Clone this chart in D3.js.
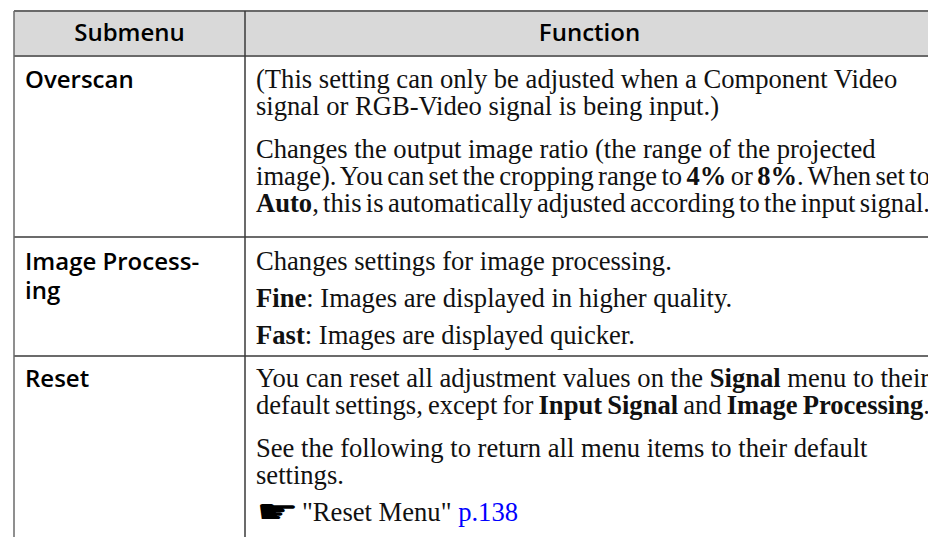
<!DOCTYPE html>
<html>
<head>
<meta charset="utf-8">
<script src="https://cdn.jsdelivr.net/npm/d3@7"></script>
<style>
  html, body { margin: 0; padding: 0; background: #fff; overflow: hidden; }
  svg { display: block; }
</style>
</head>
<body>
<svg id="chart" width="928" height="537"></svg>
<script>
// ---- data ----
const headers = ["Submenu", "Function"];
const submenus = [["Overscan"], ["Image Process-", "ing"], ["Reset"]];
// each row: list of paragraphs; each paragraph: {kind, lines}; **bold**, [[link]]
const functions = [
  [
    {kind: "p", lines: ["(This setting can only be adjusted when a Component Video",
                        "signal or RGB-Video signal is being input.)"]},
    {kind: "p", lines: ["Changes the output image ratio (the range of the projected",
                        "image). You can set the cropping range to **4%** or **8%**. When set to",
                        "**Auto**, this is automatically adjusted according to the input signal."]}
  ],
  [
    {kind: "p", lines: ["Changes settings for image processing."]},
    {kind: "li", lines: ["**Fine**: Images are displayed in higher quality."]},
    {kind: "li", lines: ["**Fast**: Images are displayed quicker."]}
  ],
  [
    {kind: "p", lines: ["You can reset all adjustment values on the **Signal** menu to their",
                        "default settings, except for **Input Signal** and **Image Processing**."]},
    {kind: "p", lines: ["See the following to return all menu items to their default",
                        "settings."]},
    {kind: "ref", lines: ["\u261B \"Reset Menu\" [[p.138]]"]}
  ]
];

// ---- layout ----
const W = 928, H = 537;
const tableLeft = 14, colDiv = 245, tableRight = 934;
const headerTop = 11, headerBottom = 56;
const rowHeights = [181, 119, 200];
const padTops = [32, 33, 31];
const lineH = 27, gapP = 16, gapLi = 10;
const textX = 256, maxW = 674;
const serif = "'Liberation Serif', 'Times New Roman', serif";
const sans = "'Open Sans', 'Noto Sans', sans-serif";
const serifSize = 26.6, sansSize = 24;

const svg = d3.select("#chart");

// header background
svg.append("rect").attr("x", tableLeft).attr("y", headerTop)
  .attr("width", tableRight - tableLeft).attr("height", headerBottom - headerTop)
  .attr("fill", "#d9d9d9");

const colCenters = [(tableLeft + colDiv) / 2, (colDiv + tableRight) / 2];
svg.selectAll("text.hdr").data(headers).join("text")
  .attr("class", "hdr")
  .attr("x", (d, i) => colCenters[i]).attr("y", 41)
  .attr("text-anchor", "middle")
  .attr("font-family", sans).attr("font-weight", 600).attr("font-size", sansSize)
  .attr("fill", "#000").text(d => d);

// row tops
const rowTops = [];
let yy = headerBottom;
rowHeights.forEach(h => { rowTops.push(yy); yy += h; });

function parseLine(str) {
  const segs = [];
  const re = /(\*\*[^*]+\*\*|\[\[[^\]]+\]\])/g;
  let last = 0, m;
  while ((m = re.exec(str))) {
    if (m.index > last) segs.push({t: str.slice(last, m.index), s: "n"});
    const tok = m[0];
    if (tok.startsWith("**")) segs.push({t: tok.slice(2, -2), s: "b"});
    else segs.push({t: tok.slice(2, -2), s: "l"});
    last = m.index + tok.length;
  }
  if (last < str.length) segs.push({t: str.slice(last), s: "n"});
  return segs;
}

functions.forEach((paras, r) => {
  const top = rowTops[r];
  // submenu label
  const lab = svg.append("text").attr("font-family", sans).attr("font-weight", 600)
    .attr("font-size", sansSize).attr("fill", "#000");
  submenus[r].forEach((ln, i) => {
    lab.append("tspan").attr("x", 25).attr("y", top + padTops[r] + i * 29).text(ln);
  });
  // function paragraphs
  let y = top + padTops[r];
  paras.forEach((p, pi) => {
    if (pi > 0) y += lineH + (p.kind === "p" ? gapP : gapLi);
    p.lines.forEach((ln, li) => {
      if (li > 0) y += lineH;
      let x = textX;
      let str = ln;
      if (str.startsWith("\u261B")) {
        svg.append("text")
          .attr("transform", `translate(${x},${y + 2}) scale(1.45,1)`)
          .attr("font-family", "'DejaVu Sans', sans-serif")
          .attr("font-size", 33).attr("fill", "#000").text("\u261B");
        x += 46;
        str = str.slice(1).trimStart();
      }
      const t = svg.append("text").attr("x", x).attr("y", y)
        .attr("font-family", serif).attr("font-size", serifSize).attr("fill", "#111");
      parseLine(str).forEach(seg => {
        const ts = t.append("tspan").text(seg.t);
        if (seg.s === "b") ts.attr("font-weight", "bold");
        if (seg.s === "l") ts.attr("fill", "#0000ff");
      });
      // compress word spacing (justification) if a line is wider than the column
      const len = t.node().getComputedTextLength();
      const spaces = (str.replace(/\*\*|\[\[|\]\]/g, "").match(/ /g) || []).length;
      if (len > maxW && spaces > 0) {
        t.attr("word-spacing", (maxW - len) / spaces);
      }
    });
  });
});

// grid lines
const lineColor = "#3a3a3a";
const hLines = [headerTop, headerBottom].concat(rowTops.slice(1));
svg.selectAll("line.h").data(hLines).join("line").attr("class", "h")
  .attr("x1", tableLeft).attr("x2", tableRight)
  .attr("y1", d => d).attr("y2", d => d)
  .attr("stroke", (d, i) => i < 2 ? "#6a6a6a" : lineColor)
  .attr("stroke-width", (d, i) => i < 2 ? 2 : 1.5);
svg.selectAll("line.v").data([tableLeft, colDiv]).join("line").attr("class", "v")
  .attr("x1", d => d).attr("x2", d => d)
  .attr("y1", headerTop).attr("y2", H + 5)
  .attr("stroke", (d, i) => i === 0 ? "#6a6a6a" : lineColor)
  .attr("stroke-width", 1.5);
</script>
</body>
</html>
